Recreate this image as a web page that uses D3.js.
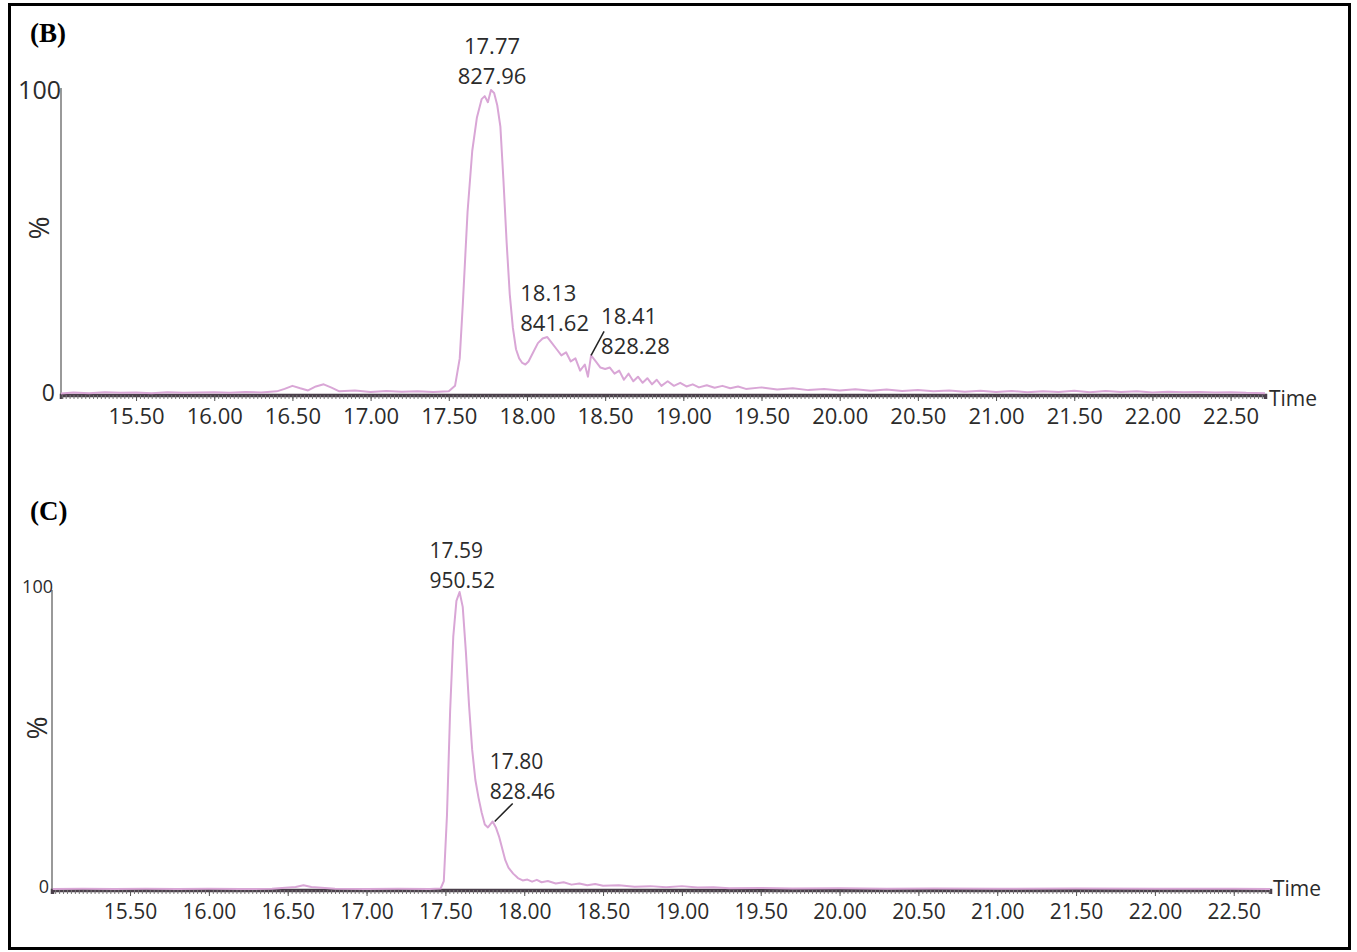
<!DOCTYPE html>
<html>
<head>
<meta charset="utf-8">
<script src="https://cdn.jsdelivr.net/npm/d3@7"></script>
<style>
  body { margin: 0; background: #fff; }
  svg { display: block; }
</style>
</head>
<body>
<svg id="chart" width="1357" height="952"></svg>
<script>
// ---------------- DATA ----------------
const tickLabels = ["15.50","16.00","16.50","17.00","17.50","18.00","18.50","19.00","19.50","20.00","20.50","21.00","21.50","22.00","22.50"];

const timesB = [15.02,15.10,15.20,15.30,15.40,15.50,15.60,15.70,15.80,15.90,16.00,16.10,16.20,16.30,16.40,16.45,16.50,16.55,16.60,16.65,16.70,16.75,16.80,16.90,17.00,17.10,17.20,17.30,17.40,17.50,17.54,17.57,17.59,17.62,17.65,17.68,17.71,17.73,17.75,17.77,17.79,17.81,17.83,17.85,17.87,17.89,17.91,17.93,17.95,17.97,17.99,18.01,18.04,18.07,18.10,18.13,18.16,18.19,18.22,18.25,18.28,18.31,18.34,18.37,18.39,18.41,18.44,18.47,18.50,18.53,18.56,18.59,18.62,18.65,18.68,18.71,18.74,18.77,18.80,18.83,18.86,18.90,18.94,18.98,19.02,19.06,19.10,19.15,19.20,19.25,19.30,19.35,19.40,19.50,19.60,19.70,19.80,19.90,20.00,20.10,20.20,20.30,20.40,20.50,20.60,20.70,20.80,20.90,21.00,21.10,21.20,21.30,21.40,21.50,21.60,21.70,21.80,21.90,22.00,22.10,22.20,22.30,22.40,22.50,22.60,22.72];
const valuesB = [0.5,0.8,0.6,0.9,0.7,0.8,0.6,0.9,0.7,0.8,0.9,0.7,1.0,0.8,1.2,2.0,3.0,2.2,1.5,2.8,3.5,2.4,1.2,1.5,1.0,1.3,1.1,1.2,1.0,1.2,3,12,30,60,80,91,97,98,96,100,99,95,88,70,50,33,22,15,12,10.5,10,11,14,17,18.5,19,17,15,13,14,11,12,8,10,6,13,11,9,8.5,9,7,8,5,7,4.5,6,4,5.5,3.5,5,3,4.5,3,4,2.8,3.5,2.5,3.2,2.4,3,2.2,2.8,2,2.5,1.8,2.2,1.6,2.0,1.5,1.9,1.4,1.8,1.3,1.6,1.2,1.5,1.1,1.4,1.0,1.3,0.9,1.2,1.0,1.4,0.9,1.3,1.0,1.2,0.8,1.1,0.9,1.0,0.8,0.9,0.7,0.6];

const timesC = [15.01,15.20,15.40,15.60,15.80,16.00,16.20,16.40,16.55,16.60,16.65,16.80,17.00,17.20,17.40,17.47,17.49,17.51,17.53,17.55,17.57,17.59,17.61,17.63,17.65,17.67,17.69,17.71,17.73,17.75,17.77,17.80,17.82,17.84,17.86,17.88,17.90,17.93,17.96,17.99,18.02,18.05,18.08,18.11,18.15,18.20,18.25,18.30,18.35,18.40,18.45,18.50,18.60,18.70,18.80,18.90,19.00,19.10,19.20,19.30,19.50,19.70,20.00,20.30,20.60,21.00,21.50,22.00,22.50,22.73];
const valuesC = [0.3,0.4,0.3,0.4,0.3,0.4,0.3,0.4,1.0,1.6,1.0,0.4,0.3,0.4,0.3,0.5,3,25,60,85,97,100,95,80,62,47,37,31,26,22,21,23,21,18,14,10,7.5,5.5,4,3.2,3.5,2.8,3.4,2.6,3,2.2,2.6,1.8,2.2,1.6,2.0,1.4,1.6,1.1,1.3,0.9,1.3,0.8,0.9,0.6,0.7,0.5,0.6,0.4,0.5,0.4,0.5,0.4,0.4,0.3];

const annotationsB = [
  { rt: "17.77", mz: "827.96" },
  { rt: "18.13", mz: "841.62" },
  { rt: "18.41", mz: "828.28" }
];
const annotationsC = [
  { rt: "17.59", mz: "950.52" },
  { rt: "17.80", mz: "828.46" }
];

// ---------------- LAYOUT ----------------
const svg = d3.select("#chart");
const lineColor = "#d9a6d6";
const textColor = "#2b2b2b";
const numFont = "'Open Sans', 'DejaVu Sans', sans-serif";

svg.append("rect").attr("x", 9.5).attr("y", 4.5).attr("width", 1340).attr("height", 944)
  .attr("fill", "none").attr("stroke", "#000").attr("stroke-width", 3);

const panels = [
  {
    letter: "(B)", letterX: 30, letterY: 42,
    times: timesB, values: valuesB,
    domain: [15.02, 22.72], xr: [61, 1265], yr: [395, 90],
    tickY: 424, tickSize: 22, annSize: 22,
    lab100: { x: 61, y: 99, size: 25 }, lab0: { x: 55, y: 401, size: 23 },
    pct: { x: 38, y: 228 }, timeLab: { x: 1269, y: 406 },
    ann: annotationsB,
    annPos: [
      { t: 17.77, dx: 1, dy: -6, anchor: "middle", leader: null },
      { t: 18.13, dx: -27, dy: -6, anchor: "start", leader: null },
      { t: 18.41, dx: 10, dy: -1, anchor: "start", leader: [[0, 0], [13, -24]] }
    ]
  },
  {
    letter: "(C)", letterX: 30, letterY: 520,
    times: timesC, values: valuesC,
    domain: [15.005, 22.73], xr: [52, 1270], yr: [890, 592],
    tickY: 919, tickSize: 21, annSize: 21,
    lab100: { x: 53, y: 593, size: 18 }, lab0: { x: 49, y: 893, size: 18 },
    pct: { x: 36, y: 728 }, timeLab: { x: 1273, y: 896 },
    ann: annotationsC,
    annPos: [
      { t: 17.59, dx: -30, dy: -4, anchor: "start", leader: null },
      { t: 17.80, dx: -3, dy: -22, anchor: "start", leader: [[2, 0], [20, -18]] }
    ]
  }
];

panels.forEach(p => {
  const g = svg.append("g");
  const x = d3.scaleLinear().domain(p.domain).range(p.xr);
  const y = d3.scaleLinear().domain([0, 100]).range(p.yr);

  // panel letter
  g.append("text").attr("x", p.letterX).attr("y", p.letterY)
    .attr("font-family", "'Liberation Serif', 'Times New Roman', serif")
    .attr("font-weight", "bold").attr("font-size", 27).attr("fill", "#000")
    .text(p.letter);

  // y-axis line
  g.append("line").attr("x1", p.xr[0]).attr("x2", p.xr[0])
    .attr("y1", y(0)).attr("y2", y(100) - 2)
    .attr("stroke", "#999").attr("stroke-width", 2);

  g.append("text").attr("x", p.lab100.x).attr("y", p.lab100.y)
    .attr("text-anchor", "end").attr("font-family", numFont)
    .attr("font-size", p.lab100.size).attr("fill", textColor).text("100");
  g.append("text").attr("x", p.lab0.x).attr("y", p.lab0.y)
    .attr("text-anchor", "end").attr("font-family", numFont)
    .attr("font-size", p.lab0.size).attr("fill", textColor).text("0");

  g.append("text").attr("transform", `translate(${p.pct.x},${p.pct.y}) rotate(-90)`)
    .attr("text-anchor", "middle").attr("dominant-baseline", "central")
    .attr("font-family", numFont).attr("font-size", 28).attr("fill", textColor).text("%");

  // x-axis with dense minor ticks
  const minor = d3.range(Math.ceil(p.domain[0] / 0.025) * 0.025, p.domain[1], 0.025);
  const xAxis = d3.axisBottom(x).tickValues(minor).tickSize(4).tickFormat("");
  const ax = g.append("g").attr("transform", `translate(0,${y(0)})`).call(xAxis);
  ax.select(".domain").attr("stroke", "#4a3f4a").attr("stroke-width", 3.5);
  ax.selectAll(".tick line").attr("stroke", "#777").attr("stroke-width", 1);

  const major = tickLabels.map(Number);
  const majAxis = d3.axisBottom(x).tickValues(major).tickSize(6).tickFormat((d, i) => tickLabels[i]);
  const mj = g.append("g").attr("transform", `translate(0,${y(0)})`).call(majAxis);
  mj.select(".domain").remove();
  mj.selectAll(".tick line").attr("stroke", "#555").attr("stroke-width", 1);
  mj.selectAll(".tick text").attr("font-family", numFont).attr("font-size", p.tickSize)
    .attr("fill", textColor).attr("y", 0).attr("dy", 0)
    .attr("transform", `translate(0,${p.tickY - y(0)})`);

  g.append("text").attr("x", p.timeLab.x).attr("y", p.timeLab.y)
    .attr("font-family", numFont).attr("font-size", 21).attr("fill", textColor).text("Time");

  // trace
  const pts = p.times.map((t, i) => [t, p.values[i]]);
  g.append("path").datum(pts)
    .attr("fill", "none").attr("stroke", lineColor).attr("stroke-width", 2)
    .attr("stroke-linejoin", "round")
    .attr("d", d3.line().x(d => x(d[0])).y(d => y(d[1])));

  // annotations
  p.ann.forEach((a, i) => {
    const pos = p.annPos[i];
    const idx = p.times.findIndex(t => Math.abs(t - pos.t) < 1e-6);
    const px = x(pos.t), py = y(p.values[idx]);
    const tx = px + pos.dx, ty = py + pos.dy;
    const t = g.append("text").attr("font-family", numFont).attr("font-size", p.annSize)
      .attr("fill", textColor).attr("text-anchor", pos.anchor);
    t.append("tspan").attr("x", tx).attr("y", ty - 30).text(a.rt);
    t.append("tspan").attr("x", tx).attr("y", ty).text(a.mz);
    if (pos.leader) {
      g.append("line")
        .attr("x1", px + pos.leader[0][0]).attr("y1", py + pos.leader[0][1])
        .attr("x2", px + pos.leader[1][0]).attr("y2", py + pos.leader[1][1])
        .attr("stroke", "#222").attr("stroke-width", 1.5);
    }
  });
});
</script>
</body>
</html>
